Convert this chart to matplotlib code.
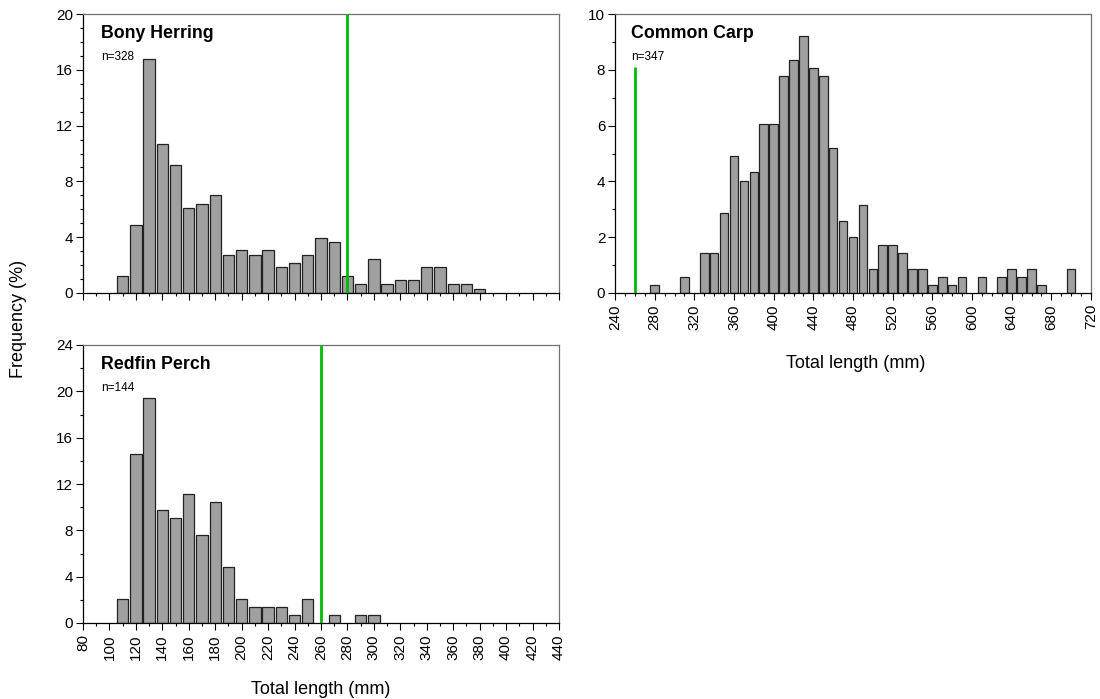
import matplotlib
matplotlib.use("Agg")
import matplotlib.pyplot as plt
from matplotlib.ticker import MultipleLocator

plt.rcParams['font.family'] = ['Liberation Sans', 'DejaVu Sans']

# Bony Herring length-frequency (% of n=328), 10 mm classes
herring_len = [110, 120, 130, 140, 150, 160, 170, 180, 190, 200, 210, 220, 230, 240,
               250, 260, 270, 280, 290, 300, 310, 320, 330, 340, 350, 360, 370, 380]
herring_pct = [1.22, 4.88, 16.77, 10.67, 9.15, 6.10, 6.40, 7.01, 2.74, 3.05, 2.74, 3.05, 1.83, 2.13,
               2.74, 3.96, 3.66, 1.22, 0.61, 2.44, 0.61, 0.91, 0.91, 1.83, 1.83, 0.61, 0.61, 0.30]

# Common Carp (% of n=347)
carp_len = [280, 310, 330, 340, 350, 360, 370, 380, 390, 400, 410, 420, 430, 440, 450, 460,
            470, 480, 490, 500, 510, 520, 530, 540, 550, 560, 570, 580, 590, 610, 630, 640,
            650, 660, 670, 700]
carp_pct = [0.29, 0.58, 1.44, 1.44, 2.88, 4.90, 4.03, 4.32, 6.05, 6.05, 7.78, 8.36, 9.22, 8.07,
            7.78, 5.19, 2.59, 2.02, 3.17, 0.86, 1.73, 1.73, 1.44, 0.86, 0.86, 0.29, 0.58, 0.29,
            0.58, 0.58, 0.58, 0.86, 0.58, 0.86, 0.29, 0.86]

# Redfin Perch (% of n=144)
perch_len = [110, 120, 130, 140, 150, 160, 170, 180, 190, 200, 210, 220, 230, 240, 250, 270, 290, 300]
perch_pct = [2.08, 14.58, 19.44, 9.72, 9.03, 11.11, 7.64, 10.42, 4.86, 2.08, 1.39, 1.39, 1.39, 0.69,
             2.08, 0.69, 0.69, 0.69]

# minimum legal size lines (mm)
herring_mls = 280
carp_mls = 260
perch_mls = 260

bar_color = '#a0a0a0'
green = '#00bb00'

fig = plt.figure(figsize=(11, 6.99), dpi=100)
W, H = 1100, 699


def make_ax(x0, y0, x1, y1):
    return fig.add_axes([x0 / W, 1 - y1 / H, (x1 - x0) / W, (y1 - y0) / H])


ax1 = make_ax(83, 14, 559, 293)
ax3 = make_ax(83, 345, 559, 623)
ax2 = make_ax(615, 14, 1091, 293)


def style(ax, ymax, ymajor, yminor, xlo, xhi, xmajor, xminor, xlabels=True):
    ax.set_xlim(xlo, xhi)
    ax.set_ylim(0, ymax)
    ax.yaxis.set_major_locator(MultipleLocator(ymajor))
    ax.yaxis.set_minor_locator(MultipleLocator(yminor))
    ax.xaxis.set_major_locator(MultipleLocator(xmajor))
    ax.xaxis.set_minor_locator(MultipleLocator(xminor))
    ax.tick_params(which='major', direction='out', length=5, width=0.8, labelsize=11,
                   colors='black', pad=2)
    ax.tick_params(which='minor', direction='out', length=2.3, width=0.8)
    if xlabels:
        ax.tick_params(axis='x', which='major', labelrotation=90, pad=3)
    else:
        ax.tick_params(axis='x', which='major', labelbottom=False)
    for s in ['left', 'bottom']:
        ax.spines[s].set_color('black')
        ax.spines[s].set_linewidth(0.9)
    for s in ['top', 'right']:
        ax.spines[s].set_color('#707070')
        ax.spines[s].set_linewidth(0.9)


def panel(ax, lens, pct, title, n, xoff):
    ax.bar(lens, pct, width=8.6, color=bar_color, edgecolor='#222222', linewidth=0.9, zorder=2)
    fx = xoff / 476
    ax.text(fx, 1 - 24.5 / 279, title, transform=ax.transAxes, fontsize=12.8,
            fontweight='bold', va='baseline', ha='left')
    ax.text(fx, 1 - 46.5 / 279, n, transform=ax.transAxes, fontsize=8.5,
            va='baseline', ha='left')


panel(ax1, herring_len, herring_pct, 'Bony Herring', 'n=328', 18)
ax1.vlines(herring_mls, 0, 20, color=green, linewidth=2, zorder=3)
style(ax1, 20, 4, 1, 80, 440, 20, 10, xlabels=False)

panel(ax2, carp_len, carp_pct, 'Common Carp', 'n=347', 16)
ax2.vlines(carp_mls, 0, 8.1, color=green, linewidth=2, zorder=3)
style(ax2, 10, 2, 1, 240, 720, 40, 10)

panel(ax3, perch_len, perch_pct, 'Redfin Perch', 'n=144', 18)
ax3.vlines(perch_mls, 0, 24, color=green, linewidth=2, zorder=3)
style(ax3, 24, 4, 2, 80, 440, 20, 10)

# axis titles placed in figure pixels
fig.text(856 / W, 1 - 368 / H, 'Total length (mm)', fontsize=13, ha='center', va='baseline')
fig.text(321 / W, 1 - 693.5 / H, 'Total length (mm)', fontsize=13, ha='center', va='baseline')
fig.text(19 / W, 1 - 319 / H, 'Frequency (%)', rotation=90, fontsize=13, ha='center', va='center')

fig.savefig('out.png', dpi=100)
